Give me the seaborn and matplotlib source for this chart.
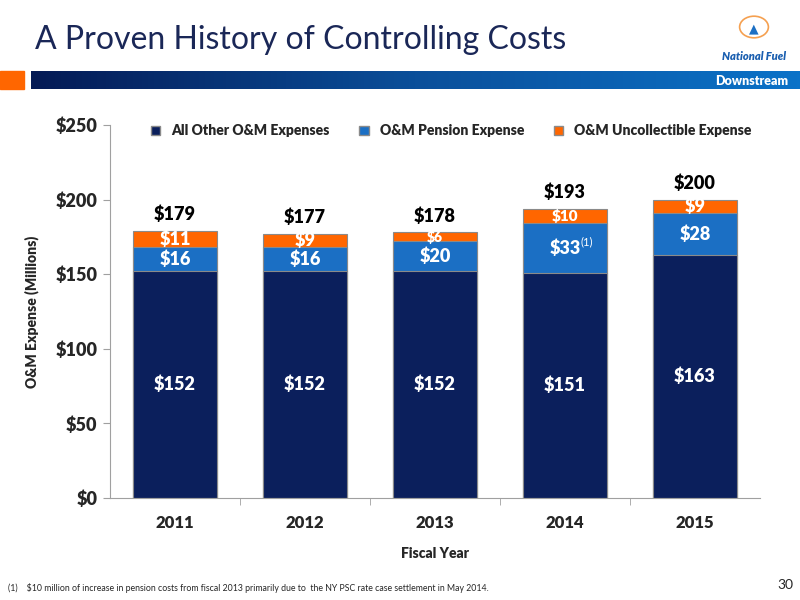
import numpy as np
import pandas as pd
import seaborn as sns
import matplotlib.pyplot as plt
from matplotlib.patches import Patch, Rectangle, Circle
from matplotlib.colors import LinearSegmentedColormap

# chart data (millions of dollars)
years = ["2011", "2012", "2013", "2014", "2015"]
other_om = [152, 152, 152, 151, 163]
pension = [16, 16, 20, 33, 28]
uncollectible = [11, 9, 6, 10, 9]
totals = [179, 177, 178, 193, 200]
pension_labels = ["$16", "$16", "$20", "$33", "$28"]

navy = "#0b1f5c"
blue = "#1b6fc4"
orange = "#ff6600"

sns.set_style("ticks")
plt.rcParams["font.family"] = ["Lato", "DejaVu Sans"]
BOLD = "heavy"

df = pd.DataFrame({"year": years, "other": other_om, "pension": pension,
                   "uncol": uncollectible})
df["lvl2"] = df["other"] + df["pension"]
df["lvl3"] = df["lvl2"] + df["uncol"]

fig = plt.figure(figsize=(8, 6), dpi=100)
ax = fig.add_axes([0.1375, 0.17, 0.8125, 0.6217])

# stacked bars drawn from the top layer down
for col, colr in [("lvl3", orange), ("lvl2", blue), ("other", navy)]:
    sns.barplot(data=df, x="year", y=col, color=colr, width=0.64,
                edgecolor="#8a8a8a", linewidth=0.8, ax=ax, saturation=1)

for i in range(len(years)):
    ax.text(i, other_om[i] / 2, f"${other_om[i]}", ha="center", va="center",
            color="white", fontsize=13, fontweight=BOLD)
    ax.text(i, other_om[i] + pension[i] / 2, pension_labels[i], ha="center",
            va="center", color="white", fontsize=13, fontweight=BOLD)
    top = other_om[i] + pension[i]
    fs = 13 if uncollectible[i] >= 9 else 10
    if i == 3:
        fs = 11
    ax.text(i, top + uncollectible[i] / 2, f"${uncollectible[i]}", ha="center",
            va="center", color="white", fontsize=fs, fontweight=BOLD)
    ax.text(i, top + uncollectible[i] + 5, f"${totals[i]}", ha="center",
            va="bottom", color="black", fontsize=13, fontweight=BOLD)
# footnote marker on 2014 pension
ax.text(3.12, 172, "(1)", ha="left", va="center", color="white", fontsize=8)

ax.set_ylim(0, 250)
ax.set_xlim(-0.5, 4.5)
ax.set_yticks([0, 50, 100, 150, 200, 250])
ax.set_yticklabels([f"${v}" for v in [0, 50, 100, 150, 200, 250]],
                   fontsize=13, fontweight=BOLD)
ax.set_xticks(range(len(years)))
ax.set_xticklabels(years, fontsize=12, fontweight=BOLD)
ax.set_xticks([0.5, 1.5, 2.5, 3.5], minor=True)
ax.tick_params(axis="x", which="major", length=0, pad=12)
ax.tick_params(axis="x", which="minor", length=5, color="#a0a0a0")
ax.tick_params(axis="y", length=5, color="#a0a0a0", pad=4)
ax.set_xlabel("Fiscal Year", fontsize=10, fontweight=BOLD, labelpad=12)
ax.set_ylabel("O&M Expense (Millions)", fontsize=10, fontweight=BOLD,
              labelpad=12)
sns.despine(ax=ax)
for s in ["left", "bottom"]:
    ax.spines[s].set_color("#a0a0a0")

handles = [Patch(facecolor=navy, edgecolor="#8a8a8a", label="All Other O&M Expenses"),
           Patch(facecolor=blue, edgecolor="#8a8a8a", label="O&M Pension Expense"),
           Patch(facecolor=orange, edgecolor="#8a8a8a", label="O&M Uncollectible Expense")]
leg = ax.legend(handles=handles, ncol=3, frameon=False, loc="upper center",
                bbox_to_anchor=(0.525, 1.035), handlelength=0.7, handleheight=0.7,
                columnspacing=2.1, handletextpad=0.8)
for t in leg.get_texts():
    t.set_fontsize(10)
    t.set_fontweight(BOLD)

# slide header
fig.text(35 / 800, 1 - 40 / 600, "A Proven History of Controlling Costs",
         fontsize=23, color="#1a2757", va="center", ha="left")
grad = np.linspace(0, 1, 256).reshape(1, -1)
cmap = LinearSegmentedColormap.from_list("band", ["#041a55", "#0a4f9a", "#0a72c8"])
band_ax = fig.add_axes([31 / 800, 1 - 89 / 600, 769 / 800, 18 / 600])
band_ax.imshow(grad, aspect="auto", cmap=cmap, extent=[0, 1, 0, 1])
band_ax.set_axis_off()
band_ax.text(0.985, 0.45, "Downstream", ha="right", va="center",
             color="white", fontsize=9, fontweight=BOLD)
fig.patches.append(Rectangle((0, 1 - 89 / 600), 24 / 800, 18 / 600,
                             transform=fig.transFigure, color=orange))
# logo approximation
fig.patches.append(Circle((754 / 800, 1 - 27 / 600), 0.018,
                          transform=fig.transFigure, facecolor="white",
                          edgecolor="#f5a050", linewidth=1.2))
fig.text(754 / 800, 1 - 28 / 600, "\u25B2", ha="center", va="center",
         color=blue, fontsize=9)
fig.text(754 / 800, 1 - 56 / 600, "National Fuel", ha="center", va="center",
         color="#1b5fb0", fontsize=8, fontweight=BOLD, style="italic")

# footnote and page number
fig.text(8 / 800, 1 - 588 / 600,
         "(1)    $10 million of increase in pension costs from fiscal 2013 primarily due to  the NY PSC rate case settlement in May 2014.",
         fontsize=6.3, va="center", ha="left")
fig.text(785 / 800, 1 - 585 / 600, "30", fontsize=10, va="center", ha="center")

fig.savefig("out.png", dpi=100)
